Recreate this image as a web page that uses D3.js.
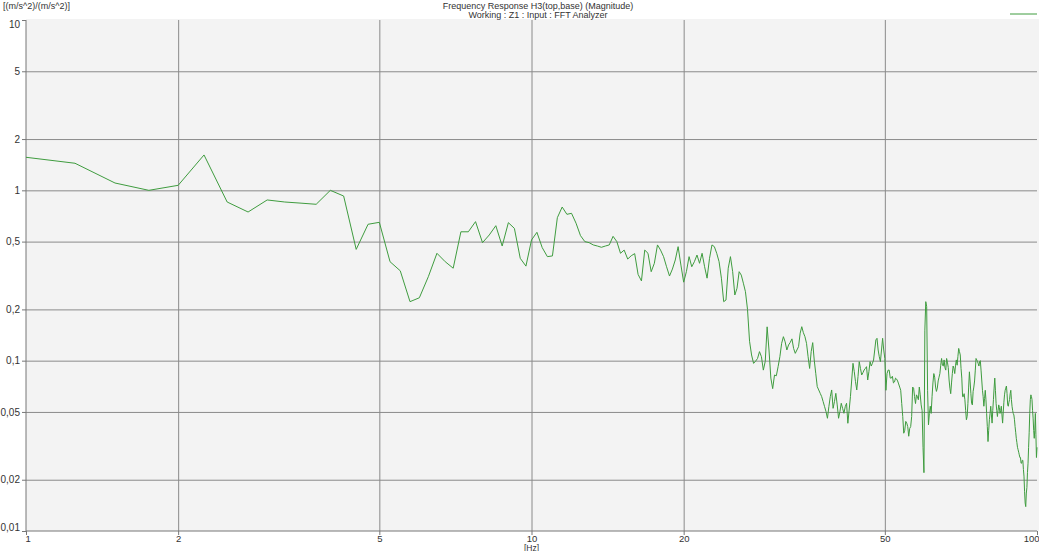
<!DOCTYPE html>
<html><head><meta charset="utf-8">
<script src="https://cdn.jsdelivr.net/npm/d3@7"></script>
<style>
html,body{margin:0;padding:0;background:#fff;}
text{font-family:"Liberation Sans","DejaVu Sans",sans-serif;fill:#333;}
</style></head>
<body><svg id="c" width="1039" height="551"></svg>
<script>
// ---- data ----
const titleLines = ["Frequency Response H3(top,base) (Magnitude)", "Working : Z1 : Input : FFT Analyzer"];
const yUnit = "[(m/s^2)/(m/s^2)]";
const xUnit = "[Hz]";
const xTicks = [1, 2, 5, 10, 20, 50, 100];
const xTickLabels = ["1", "2", "5", "10", "20", "50", "100"];
const yTicks = [10, 5, 2, 1, 0.5, 0.2, 0.1, 0.05, 0.02, 0.01];
const yTickLabels = ["10", "5", "2", "1", "0,5", "0,2", "0,1", "0,05", "0,02", "0,01"];
const freqStart = 1, freqStep = 0.25;
// magnitude, one value per 0.25 Hz, grouped per Hz
const magnitude = [
  1.563, 1.442, 1.104, 1.0,      // 1
  1.07, 1.613, 0.854, 0.746,     // 2
  0.878, 0.854, 0.841, 0.828,    // 3
  1.0, 0.926, 0.450, 0.632,      // 4
  0.649, 0.381, 0.337, 0.222,    // 5
  0.234, 0.311, 0.427, 0.381,    // 6
  0.349, 0.571, 0.571, 0.655,    // 7
  0.493, 0.547, 0.620, 0.471,    // 8
  0.646, 0.598, 0.399, 0.359,    // 9
  0.511, 0.567, 0.461, 0.408,    // 10
  0.412, 0.691, 0.798, 0.723,    // 11
  0.733, 0.641, 0.542, 0.500,    // 12
  0.493, 0.478, 0.471, 0.463,    // 13
  0.471, 0.478, 0.537, 0.500,    // 14
  0.427, 0.446, 0.395, 0.413,    // 15
  0.425, 0.321, 0.294, 0.446,    // 16
  0.427, 0.333, 0.373, 0.478,    // 17
  0.446, 0.408, 0.356, 0.314,    // 18
  0.345, 0.390, 0.467, 0.364,    // 19
  0.289, 0.333, 0.408, 0.356,    // 20
  0.381, 0.417, 0.373, 0.427,    // 21
  0.356, 0.305, 0.399, 0.478,    // 22
  0.467, 0.427, 0.381, 0.305,    // 23
  0.222, 0.227, 0.349, 0.408,    // 24
  0.333, 0.243, 0.266, 0.333,    // 25
  0.318, 0.285, 0.254, 0.200,    // 26
  0.130, 0.108, 0.0964, 0.0993,  // 27
  0.103, 0.113, 0.1055, 0.088,   // 28
  0.099, 0.158, 0.1155, 0.079,   // 29
  0.0685, 0.0824, 0.0815, 0.0922,// 30
  0.1055, 0.1264, 0.1383, 0.129, // 31
  0.1155, 0.1236, 0.128, 0.1343, // 32
  0.118, 0.1104, 0.1155, 0.1208, // 33
  0.145, 0.1583, 0.146, 0.1383,  // 34
  0.1264, 0.1055, 0.090, 0.113,  // 35
  0.1276, 0.1009, 0.0843, 0.0704,// 36
  0.0673, 0.0643, 0.0615, 0.0575,// 37
  0.0537, 0.0502, 0.0459, 0.0537,// 38
  0.0615, 0.0673, 0.0525, 0.0575,// 39
  0.0643, 0.055, 0.0459, 0.0502, // 40
  0.0562, 0.0525, 0.0491, 0.0537,// 41
  0.0562, 0.0429, 0.0513, 0.0615,// 42
  0.077, 0.0965, 0.0862, 0.0753, // 43
  0.0673, 0.0806, 0.0987, 0.090, // 44
  0.0824, 0.085, 0.0882, 0.090,  // 45
  0.0922, 0.077, 0.0862, 0.0987, // 46
  0.093, 0.0965, 0.1009, 0.1155, // 47
  0.1323, 0.1353, 0.1155, 0.1055,// 48
  0.0987, 0.1155, 0.1353, 0.1155,// 49
  0.103, 0.067, 0.084, 0.088,    // 50
  0.088, 0.079, 0.079, 0.081,    // 51
  0.074, 0.075, 0.079, 0.078,    // 52
  0.076, 0.073, 0.070, 0.067,    // 53
  0.056, 0.047, 0.0375, 0.039,   // 54
  0.044, 0.043, 0.041, 0.036,    // 55
  0.040, 0.041, 0.047, 0.070,    // 56
  0.069, 0.0615, 0.056, 0.063,   // 57
  0.0615, 0.059, 0.070, 0.063,   // 58
  0.055, 0.051, 0.031, 0.022,    // 59
  0.151, 0.222, 0.2075, 0.067,   // 60
  0.042, 0.049, 0.054, 0.049,    // 61
  0.0615, 0.074, 0.084, 0.080,   // 62
  0.070, 0.066, 0.069, 0.076,    // 63
  0.080, 0.084, 0.094, 0.103,    // 64
  0.094, 0.093, 0.101, 0.091,    // 65
  0.088, 0.103, 0.098, 0.091,    // 66
  0.077, 0.069, 0.064, 0.074,    // 67
  0.084, 0.093, 0.090, 0.084,    // 68
  0.094, 0.101, 0.094, 0.106,    // 69
  0.118, 0.113, 0.108, 0.090,    // 70
  0.079, 0.0615, 0.0615, 0.064,  // 71
  0.059, 0.051, 0.045, 0.047,    // 72
  0.056, 0.070, 0.086, 0.075,    // 73
  0.064, 0.056, 0.055, 0.066,    // 74
  0.070, 0.076, 0.088, 0.103,    // 75
  0.101, 0.099, 0.096, 0.093,    // 76
  0.099, 0.100, 0.088, 0.077,    // 77
  0.067, 0.0615, 0.054, 0.060,   // 78
  0.067, 0.059, 0.049, 0.041,    // 79
  0.0335, 0.039, 0.045, 0.049,   // 80
  0.054, 0.048, 0.043, 0.051,    // 81
  0.059, 0.069, 0.079, 0.067,    // 82
  0.056, 0.051, 0.047, 0.051,    // 83
  0.055, 0.053, 0.049, 0.051,    // 84
  0.054, 0.048, 0.043, 0.050,    // 85
  0.057, 0.063, 0.067, 0.069,    // 86
  0.071, 0.064, 0.055, 0.054,    // 87
  0.057, 0.059, 0.064, 0.067,    // 88
  0.059, 0.054, 0.051, 0.049,    // 89
  0.048, 0.045, 0.041, 0.038,    // 90
  0.035, 0.033, 0.031, 0.030,    // 91
  0.029, 0.028, 0.027, 0.027,    // 92
  0.025, 0.025, 0.026, 0.026,    // 93
  0.023, 0.021, 0.017, 0.0146,   // 94
  0.0139, 0.0167, 0.018, 0.022,  // 95
  0.025, 0.031, 0.038, 0.049,    // 96
  0.059, 0.063, 0.0615, 0.059,   // 97
  0.051, 0.046, 0.039, 0.035,    // 98
  0.039, 0.049, 0.037, 0.027,    // 99
  0.031                          // 100
];

// ---- chart ----
const svg = d3.select("#c");
const L = 26, R = 1037, T = 20, B = 531;
const x = d3.scaleLog().domain([1, 100]).range([L, R]);
const y = d3.scaleLog().domain([0.01, 10]).range([B, T]);
const points = magnitude.map((v, i) => [freqStart + i * freqStep, v]);

svg.append("rect").attr("x", L).attr("y", T - 1).attr("width", 1039 - L).attr("height", B - T + 1).attr("fill", "#f3f3f3");

// grid
const gx = svg.append("g").attr("transform", `translate(0,${B})`)
  .call(d3.axisBottom(x).tickValues(xTicks.slice(1, -1)).tickSize(-(B - T)).tickFormat(""));
gx.select(".domain").remove();
gx.selectAll("line").attr("stroke", "#8a8a8a");
const gy = svg.append("g").attr("transform", `translate(${L},0)`)
  .call(d3.axisLeft(y).tickValues(yTicks.slice(1, -1)).tickSize(-(R - L)).tickFormat(""));
gy.select(".domain").remove();
gy.selectAll("line").attr("stroke", "#8a8a8a");

// axes
const ax = svg.append("g").attr("transform", `translate(0,${B})`)
  .call(d3.axisBottom(x).tickValues(xTicks).tickSize(4).tickPadding(0).tickFormat((d, i) => xTickLabels[i]));
ax.select(".domain").attr("stroke", "#777").attr("d", `M${L},0H${R}`);
ax.selectAll("line").attr("stroke", "#777");
ax.selectAll("text").attr("font-size", 9.5).attr("font-family", "Liberation Sans, DejaVu Sans, sans-serif").attr("fill", "#444")
  .attr("text-anchor", (d, i) => i === 0 ? "start" : (i === xTicks.length - 1 ? "end" : "middle"))
  .attr("dx", (d, i) => i === 0 ? -1 : (i === xTicks.length - 1 ? 2 : 0));

const ay = svg.append("g").attr("transform", `translate(${L},0)`)
  .call(d3.axisLeft(y).tickValues(yTicks).tickSize(4).tickPadding(2).tickFormat((d, i) => yTickLabels[i]));
ay.select(".domain").attr("stroke", "#777").attr("d", `M0,${T}V${B}`);
ay.selectAll("line").attr("stroke", "#777");
ay.selectAll("text").attr("font-size", 10).attr("font-family", "Liberation Sans, DejaVu Sans, sans-serif").attr("fill", "#444")
  .attr("dy", (d, i) => i === 0 ? "0.75em" : (i === yTicks.length - 1 ? "-0.05em" : "0.32em"));

// line
svg.append("path").datum(points)
  .attr("fill", "none").attr("stroke", "#3f9c3f").attr("stroke-width", 1)
  .attr("d", d3.line().x(d => x(d[0])).y(d => y(d[1])));

// texts
svg.append("text").attr("x", 3).attr("y", 9).attr("font-size", 9).text(yUnit);
svg.selectAll(".title").data(titleLines).enter().append("text")
  .attr("x", 538).attr("y", (d, i) => 9 + i * 9).attr("font-size", 9).attr("text-anchor", "middle").text(d => d);
svg.append("text").attr("x", x(10)).attr("y", 550.5).attr("font-size", 8.5).attr("text-anchor", "middle").text(xUnit);

// legend line
svg.append("line").attr("x1", 1010).attr("x2", 1037).attr("y1", 14).attr("y2", 14).attr("stroke", "#3f9c3f").attr("stroke-width", 1);
</script></body></html>
